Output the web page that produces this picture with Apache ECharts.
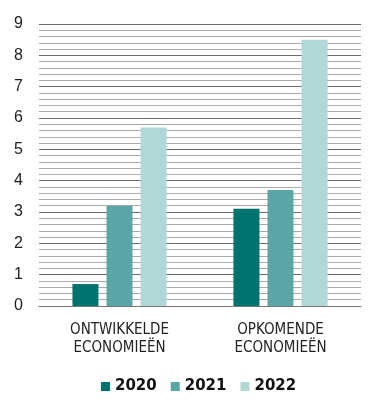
<!DOCTYPE html>
<html><head><meta charset="utf-8">
<script src="https://cdn.jsdelivr.net/npm/echarts@6/dist/echarts.min.js"></script>
<style>html,body{margin:0;padding:0;background:#fff}#c{width:384px;height:415px}</style>
</head><body><div id="c"></div>
<script>
const categories = ['ONTWIKKELDE\nECONOMIEËN', 'OPKOMENDE\nECONOMIEËN'];
const years = ['2020', '2021', '2022'];
const values2020 = [0.7, 3.1];
const values2021 = [3.2, 3.7];
const values2022 = [5.7, 8.5];
const colors = ['#00736f', '#5ba5a6', '#b2d7d7'];
const yTicks = [0, 1, 2, 3, 4, 5, 6, 7, 8, 9];

const chart = echarts.init(document.getElementById('c'), null, {renderer: 'canvas'});
const seriesData = [values2020, values2021, values2022];
chart.setOption({
  animation: false,
  grid: {left: 39, right: 23, top: 24, bottom: 109},
  legend: {
    bottom: 16, left: 96, itemWidth: 9, itemHeight: 9, itemGap: 14,
    icon: 'rect',
    textStyle: {fontFamily: 'DejaVu Sans', fontWeight: 'bold', fontSize: 15, color: '#111'},
    data: years
  },
  xAxis: {
    type: 'category', data: categories,
    axisLine: {lineStyle: {color: '#777', width: 1}},
    axisTick: {show: false},
    axisLabel: {fontFamily: "'DejaVu Sans Condensed', 'Liberation Sans'", fontSize: 15, lineHeight: 18, color: '#222', margin: 15}
  },
  yAxis: {
    type: 'value', min: yTicks[0], max: yTicks[yTicks.length - 1], interval: 1,
    axisLine: {show: false}, axisTick: {show: false},
    axisLabel: {fontFamily: 'Liberation Sans', fontSize: 16, color: '#222', margin: 25, align: 'left'},
    splitLine: {show: true, lineStyle: {color: '#6b6b6b', width: 1}},
    minorTick: {show: false, splitNumber: 5},
    minorSplitLine: {show: true, lineStyle: {color: '#aaaaaa', width: 1}}
  },
  series: years.map((y, i) => ({
    name: y, type: 'bar', data: seriesData[i], barWidth: 26, barGap: '31%',
    itemStyle: {color: colors[i]}
  }))
});
</script></body></html>
